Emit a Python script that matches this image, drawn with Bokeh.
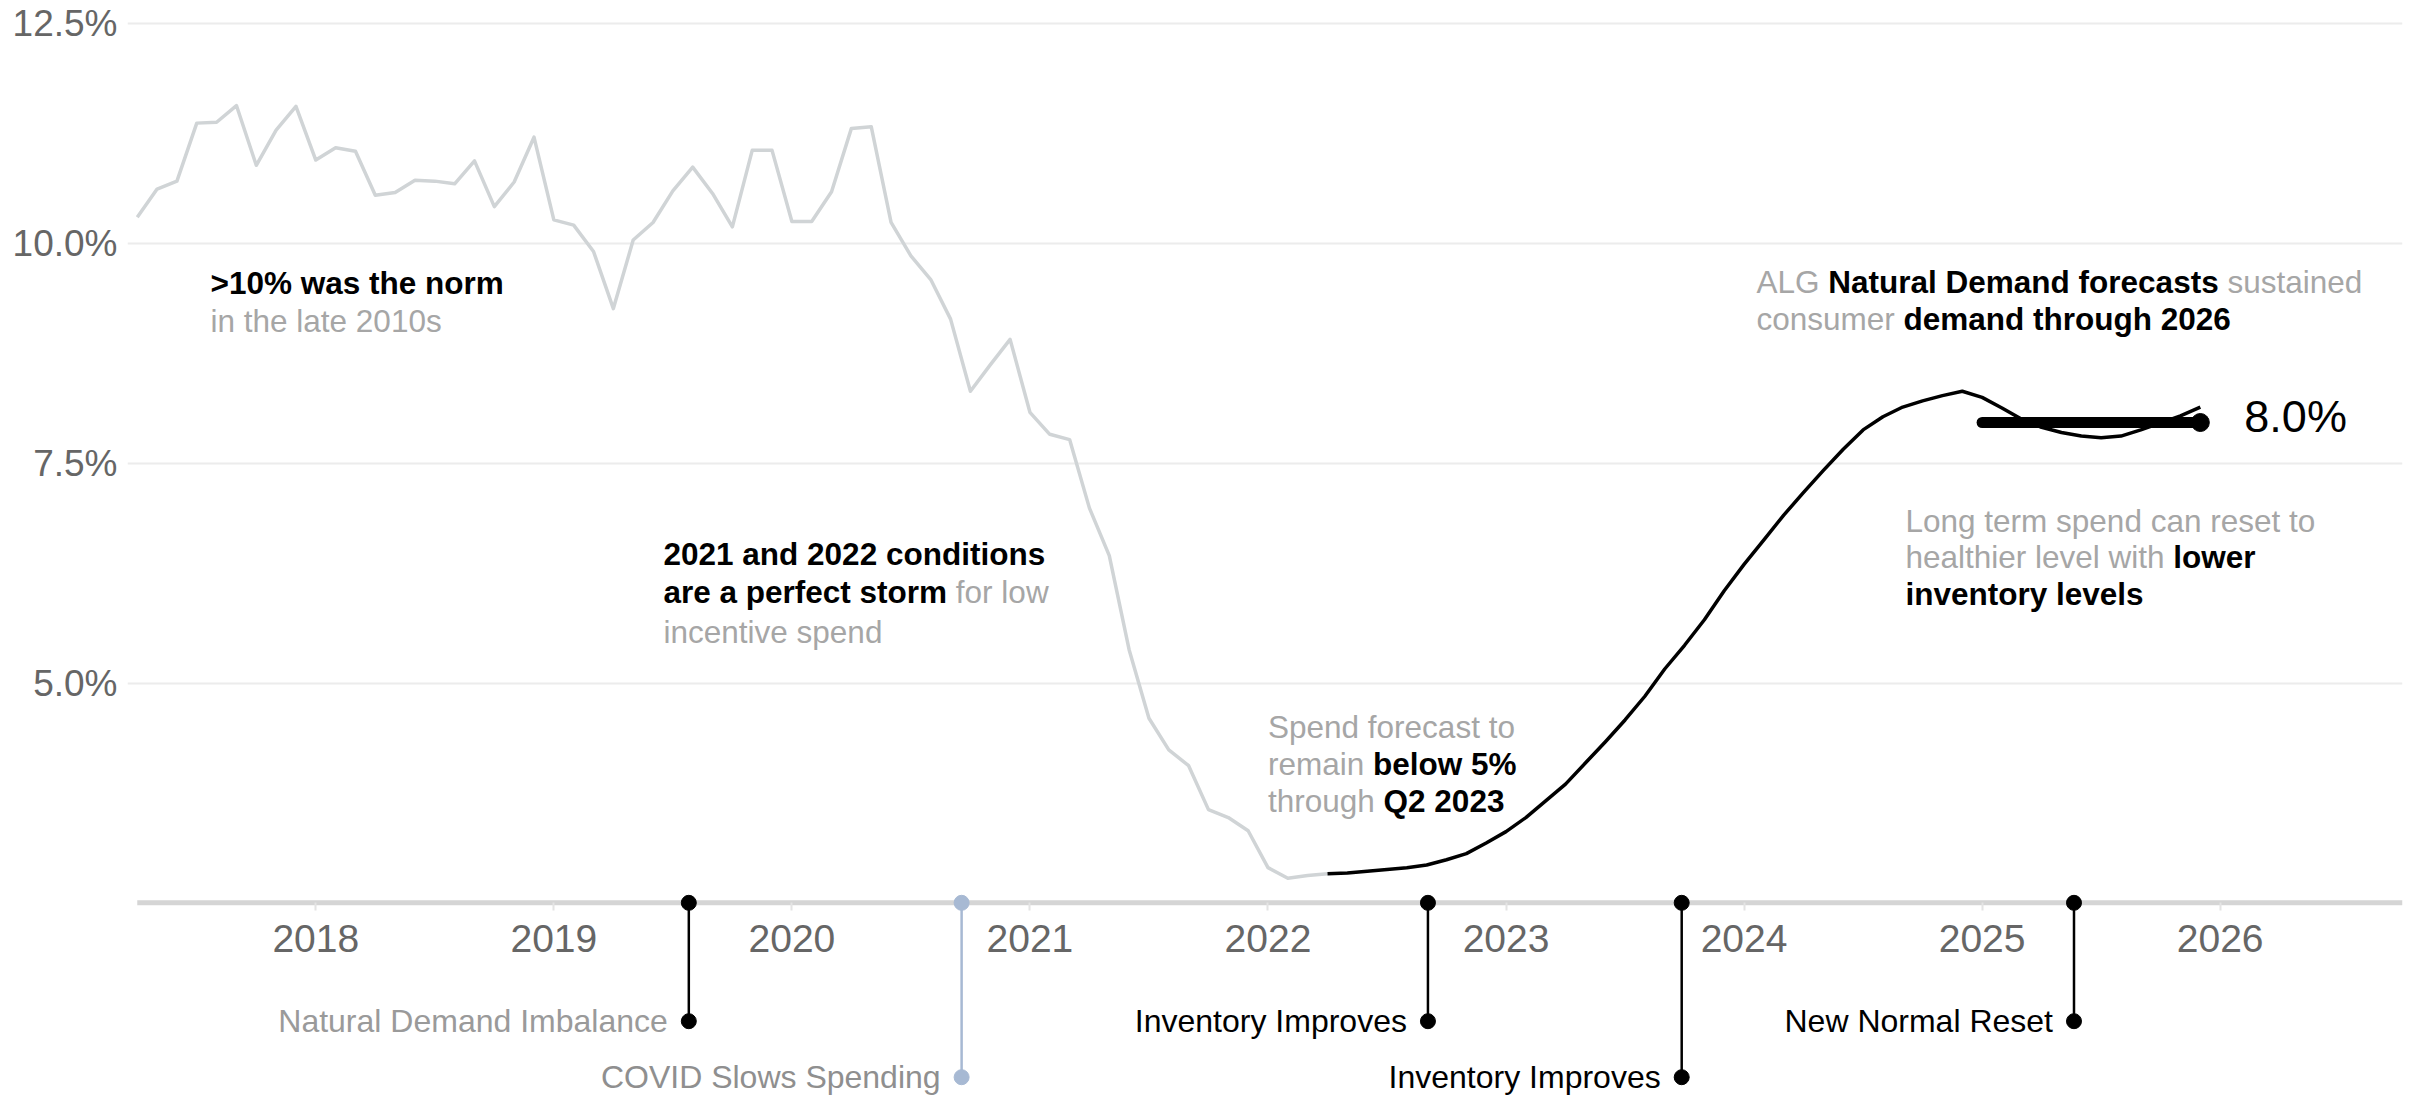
from bokeh.plotting import figure
from bokeh.models import ColumnDataSource, FixedTicker, LinearAxis, PrintfTickFormatter, Range1d
from bokeh.core.properties import value
from bokeh.embed import file_html
from bokeh.resources import INLINE

# ---------------- data ----------------
history_start = (2017, 4)          # first month of the historical series
history_values = [
    10.30, 10.62, 10.71, 11.37, 11.38, 11.57, 10.89, 11.29, 11.56,                 # 2017 Apr-Dec
    10.95, 11.09, 11.05, 10.55, 10.58, 10.72, 10.71, 10.68, 10.94, 10.42, 10.70, 11.21,  # 2018
    10.27, 10.21, 9.91, 9.26, 10.04, 10.24, 10.60, 10.87, 10.57, 10.19, 11.06, 11.06,    # 2019
    10.25, 10.25, 10.59, 11.31, 11.33, 10.24, 9.86, 9.59, 9.14, 8.32, 8.62, 8.91,        # 2020
    8.08, 7.83, 7.77, 6.99, 6.45, 5.38, 4.60, 4.24, 4.06, 3.56, 3.47, 3.32,              # 2021
    2.90, 2.78, 2.81, 2.83,                                                              # 2022 Jan-Apr
]
forecast_start = (2022, 4)
forecast_values = [
    2.83, 2.84, 2.86, 2.88, 2.90, 2.93, 2.99, 3.06, 3.18,                               # 2022 Apr-Dec
    3.31, 3.47, 3.66, 3.85, 4.09, 4.33, 4.58, 4.85, 5.16, 5.43, 5.72, 6.05,             # 2023
    6.35, 6.63, 6.91, 7.17, 7.42, 7.66, 7.88, 8.03, 8.14, 8.21, 8.27, 8.32,             # 2024
    8.25, 8.13, 8.00, 7.91, 7.85, 7.81, 7.79, 7.81, 7.88, 7.96, 8.04, 8.14,             # 2025
]
year_ticks = [2018, 2019, 2020, 2021, 2022, 2023, 2024, 2025, 2026]
y_ticks = [5.0, 7.5, 10.0, 12.5]
baseline_value = 2.5
event_dates = [2019.567, 2020.713, 2022.672, 2023.738, 2025.386]
event_labels = ["Natural Demand Imbalance", "COVID Slows Spending", "Inventory Improves",
                "Inventory Improves", "New Normal Reset"]
average_year = 2025

ann_texts = [
    [[(">10% was the norm", True)], [("in the late 2010s", False)]],
    [[("2021 and 2022 conditions", True)], [("are a perfect storm", True), (" for low", False)],
     [("incentive spend", False)]],
    [[("Spend forecast to", False)], [("remain ", False), ("below 5%", True)],
     [("through ", False), ("Q2 2023", True)]],
    [[("ALG ", False), ("Natural Demand forecasts", True), (" sustained", False)],
     [("consumer ", False), ("demand through 2026", True)]],
    [[("Long term spend can reset to", False)], [("healthier level with ", False), ("lower", True)],
     [("inventory levels", True)]],
]


def month_x(start, n):
    y, m = start
    return [y + (m - 1 + i) / 12 for i in range(n)]


hist_x = month_x(history_start, len(history_values))
fc_x = month_x(forecast_start, len(forecast_values))
avg_pts = [v for x, v in zip(fc_x, forecast_values) if int(round(x * 12)) // 12 == average_year]
avg_x = [x for x in fc_x if int(round(x * 12)) // 12 == average_year]
avg_value = sum(avg_pts) / len(avg_pts)

# ---------------- layout ----------------
FONT = "Liberation Sans"
W, H = 2412, 1095
LEFT, RIGHT = 127, 10
X_START, X_END = 2017.209, 2026.766
Y_START, Y_END = 0.308, 12.765
PX_X = (W - LEFT - RIGHT) / (X_END - X_START)
PX_Y = H / (Y_END - Y_START)


def dx(px):
    return X_START + (px - LEFT) / PX_X


def dy(py):
    return Y_END - py / PX_Y


p = figure(width=W, height=H, x_range=Range1d(X_START, X_END), y_range=Range1d(Y_START, Y_END),
           output_backend="svg", toolbar_location=None, x_axis_location=None, y_axis_location="left",
           min_border_left=LEFT, min_border_right=RIGHT, min_border_top=0, min_border_bottom=0)
p.outline_line_color = None
p.background_fill_color = "white"
p.border_fill_color = "white"
for g in p.xgrid:
    g.visible = False

yt = FixedTicker(ticks=y_ticks)
p.yaxis.ticker = yt
p.yaxis.formatter = PrintfTickFormatter(format="%.1f%%")
p.yaxis.axis_line_color = None
p.yaxis.major_tick_line_color = None
p.yaxis.minor_tick_line_color = None
p.yaxis.major_label_text_font_size = "37px"
p.yaxis.major_label_text_color = "#666666"
p.yaxis.major_label_text_font = FONT
p.yaxis.major_label_standoff = 4
p.ygrid.ticker = yt
p.ygrid.grid_line_color = "#ececec"
p.ygrid.grid_line_width = 2

xaxis = LinearAxis(fixed_location=baseline_value, ticker=FixedTicker(ticks=year_ticks),
                   axis_line_color=None, major_tick_out=8, major_tick_in=0,
                   major_tick_line_color="#e4e4e4", major_tick_line_width=2,
                   minor_tick_line_color=None, major_label_text_font_size="39px",
                   major_label_text_color="#666666", major_label_text_font=FONT,
                   major_label_standoff=14)
p.add_layout(xaxis, "below")

# baseline
p.segment(x0=[hist_x[0]], y0=[baseline_value], x1=[X_END], y1=[baseline_value],
          line_color="#d5d5d5", line_width=5)

# series
p.line(hist_x, history_values, line_color="#d0d4d6", line_width=3.5, line_join="round")
p.line(fc_x, forecast_values, line_color="#000000", line_width=3.5, line_join="round")

# average bar
p.line([avg_x[0], avg_x[-1]], [avg_value, avg_value], line_color="#000000", line_width=11,
       line_cap="round")
p.scatter([avg_x[-1]], [avg_value], size=18, color="#000000")
p.text([avg_x[-1]], [avg_value + 6 / PX_Y], text=[f"{avg_value:.1f}%"], x_offset=44,
       text_font=value(FONT), text_font_size="45px", text_color="#000000",
       text_baseline="middle", text_align="left")

# events
ev_rows = [dy(1020.7), dy(1076.7), dy(1020.7), dy(1076.7), dy(1020.7)]
ev_line_colors = ["#000000", "#a7b9d3", "#000000", "#000000", "#000000"]
ev_text_colors = ["#9a9a9a", "#8f8f8f", "#000000", "#000000", "#000000"]
ev = ColumnDataSource(dict(x=event_dates, y0=[baseline_value] * len(event_dates), y1=ev_rows,
                           lc=ev_line_colors, tc=ev_text_colors, label=event_labels))
p.segment(x0="x", y0="y0", x1="x", y1="y1", line_color="lc", line_width=2.5, source=ev)
p.scatter(x="x", y="y0", size=15, color="lc", source=ev)
p.scatter(x="x", y="y1", size=15, color="lc", source=ev)
p.text(x="x", y="y1", text="label", text_color="tc", x_offset=-21, text_align="right",
       text_baseline="middle", text_font=value(FONT), text_font_size="32px", source=ev)

# annotations
W_REG = {' ': 278, '%': 889, '.': 278, '>': 584, 'A': 667, 'B': 667, 'C': 722, 'D': 722, 'E': 667,
         'F': 611, 'G': 778, 'H': 722, 'I': 278, 'L': 556, 'N': 722, 'Q': 778, 'R': 722, 'S': 667,
         'a': 556, 'b': 556, 'c': 500, 'd': 556, 'e': 556, 'f': 278, 'g': 556, 'h': 556, 'i': 222,
         'j': 222, 'k': 500, 'l': 222, 'm': 833, 'n': 556, 'o': 556, 'p': 556, 'q': 556, 'r': 333,
         's': 500, 't': 278, 'u': 556, 'v': 500, 'w': 722, 'x': 500, 'y': 500, 'z': 500}
W_BOLD = {' ': 278, '%': 889, '.': 278, '>': 584, 'A': 722, 'B': 722, 'C': 722, 'D': 722, 'E': 667,
          'F': 611, 'G': 778, 'H': 722, 'I': 278, 'L': 611, 'N': 722, 'Q': 778, 'R': 722, 'S': 667,
          'a': 556, 'b': 611, 'c': 556, 'd': 611, 'e': 556, 'f': 333, 'g': 611, 'h': 611, 'i': 278,
          'j': 278, 'k': 556, 'l': 278, 'm': 889, 'n': 611, 'o': 611, 'p': 611, 'q': 611, 'r': 389,
          's': 556, 't': 333, 'u': 611, 'v': 556, 'w': 778, 'x': 556, 'y': 556, 'z': 500}


def tw(s, bold, size):
    tbl = W_BOLD if bold else W_REG
    return sum(tbl.get(c, 556) for c in s) * size / 1000.0


ann_pos = [
    (210, [282.0, 320.3]),
    (663, [553.3, 591.7, 631.0]),
    (1267.5, [726.7, 763.3, 800.0]),
    (1756, [281.7, 318.3]),
    (1905, [520.0, 556.7, 593.3]),
]
SIZE = 31.5
bold_src = dict(x=[], y=[], xo=[], text=[])
reg_src = dict(x=[], y=[], xo=[], text=[])
for (xp, centers), lines in zip(ann_pos, ann_texts):
    for cy, runs in zip(centers, lines):
        off = 0.0
        for txt, b in runs:
            stripped = txt.lstrip(" ")
            lead = txt[:len(txt) - len(stripped)]
            off += tw(lead, b, SIZE)
            body = stripped.rstrip(" ")
            d = bold_src if b else reg_src
            d["x"].append(dx(xp))
            d["y"].append(dy(cy))
            d["xo"].append(off)
            d["text"].append(body)
            off += tw(stripped, b, SIZE)

p.text(x="x", y="y", x_offset="xo", text="text", source=ColumnDataSource(reg_src),
       text_font=value(FONT), text_font_size=f"{SIZE}px", text_color="#a6a6a6",
       text_baseline="middle", text_align="left")
p.text(x="x", y="y", x_offset="xo", text="text", source=ColumnDataSource(bold_src),
       text_font=value(FONT), text_font_size=f"{SIZE}px", text_font_style="bold",
       text_color="#000000", text_baseline="middle", text_align="left")

open("out.html", "w").write(file_html(p, INLINE))
